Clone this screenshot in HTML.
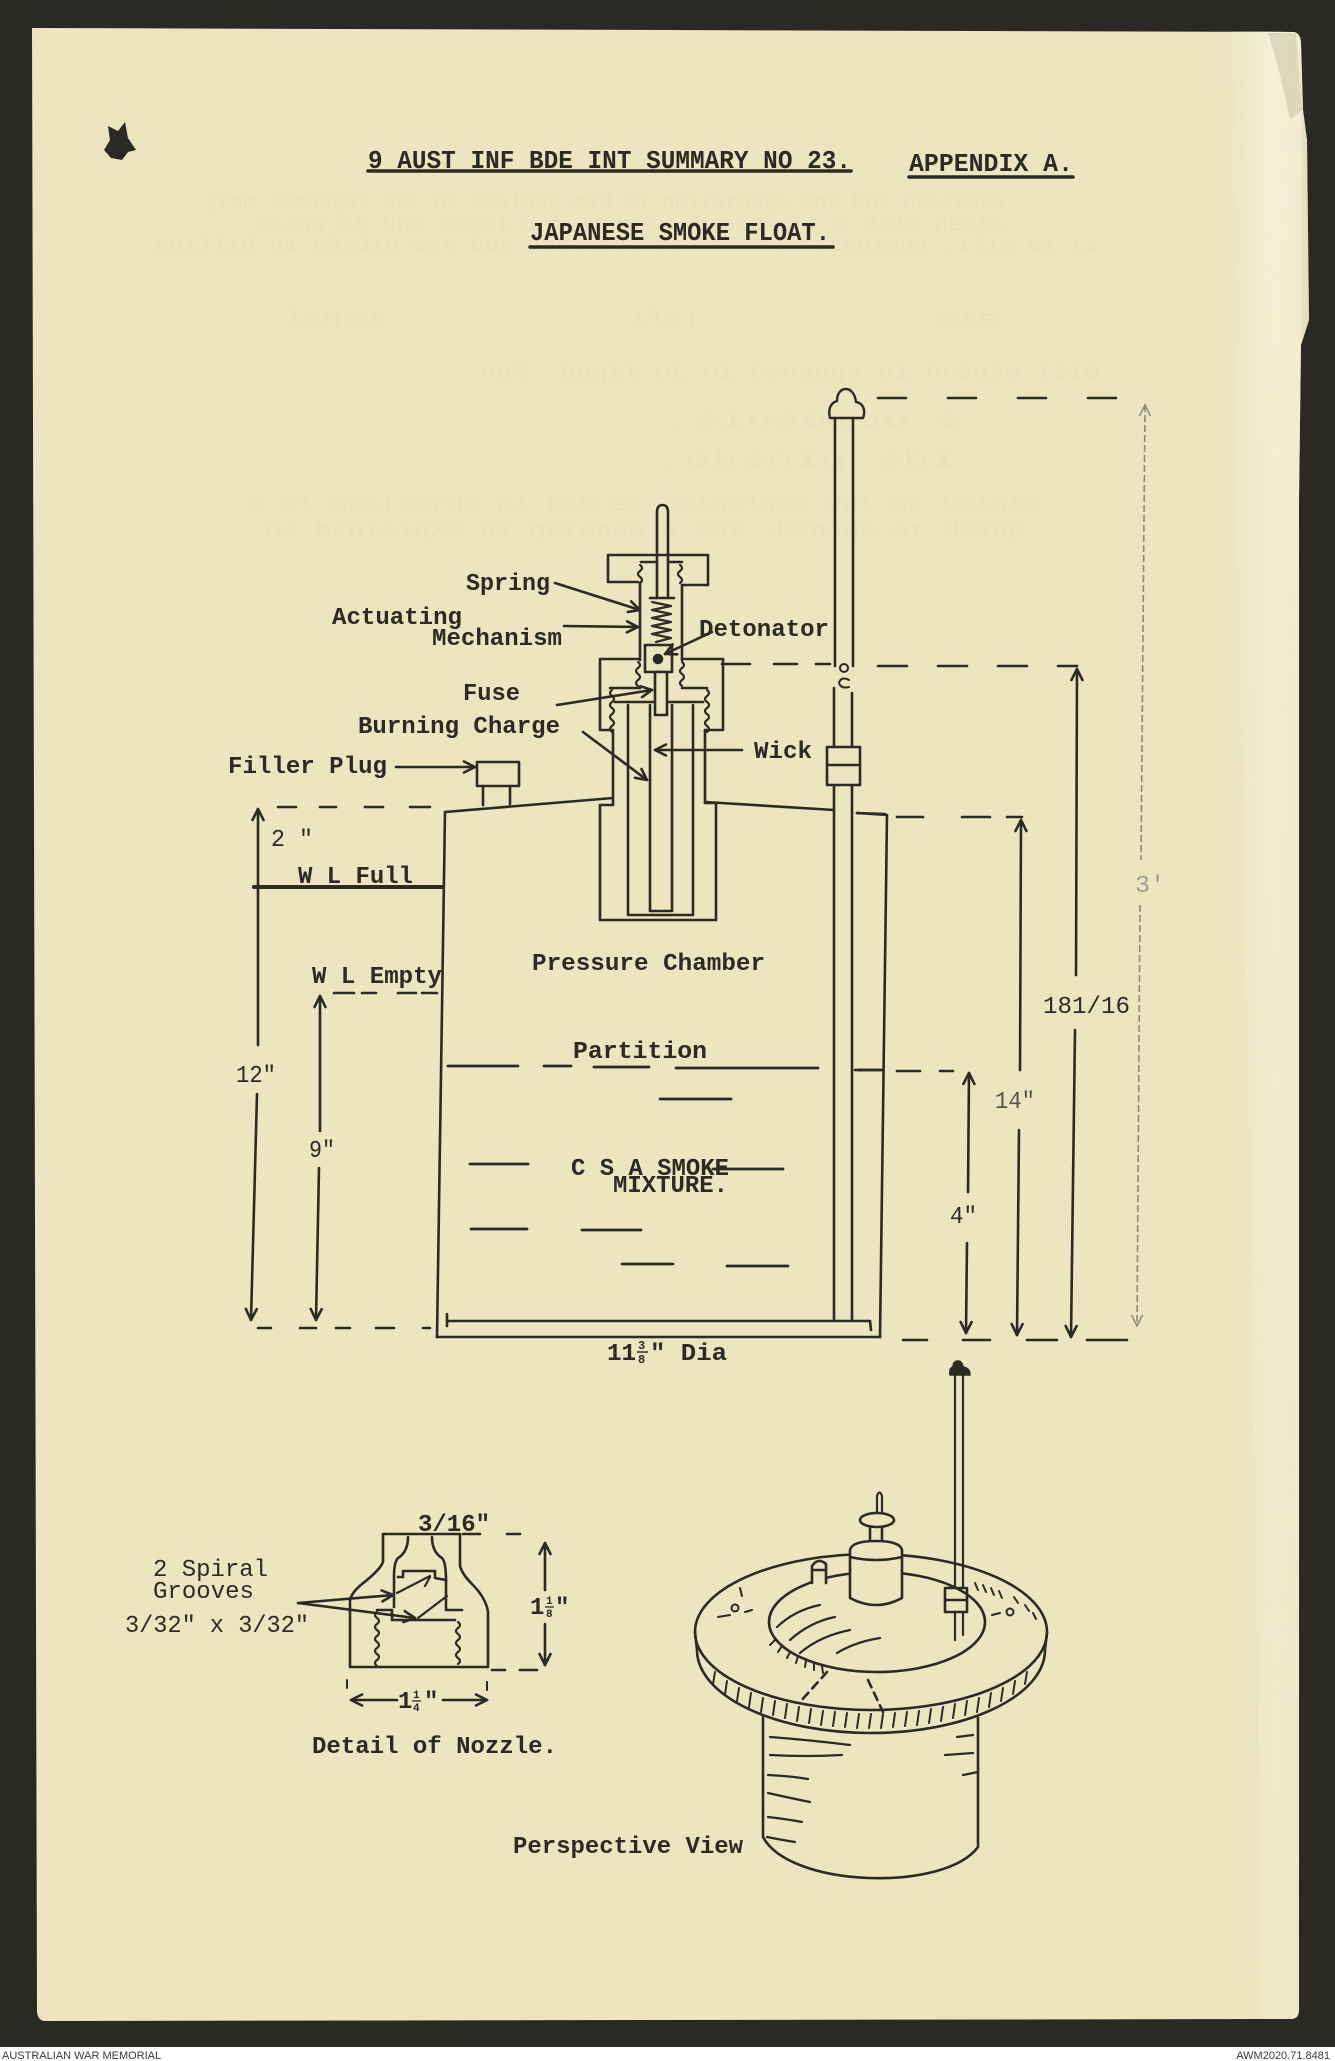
<!DOCTYPE html>
<html><head><meta charset="utf-8">
<style>
html,body{margin:0;padding:0;background:#2a2925;}
body{width:1335px;height:2061px;overflow:hidden;}
svg{display:block}
.t{font-family:"Liberation Mono","DejaVu Sans Mono",monospace;font-weight:bold;font-size:24px;fill:#2d2a24;}
.n{font-weight:normal;}
.g{font-family:"Liberation Mono",monospace;font-size:20px;fill:#d6cfaa;}
.f{font-family:"Liberation Sans",Arial,sans-serif;font-size:11px;fill:#3a3a3a;}
</style></head><body>
<svg width="1335" height="2061" viewBox="0 0 1335 2061" xmlns="http://www.w3.org/2000/svg">
<defs>
<linearGradient id="curl" x1="0" x2="1" y1="0" y2="0">
 <stop offset="0" stop-color="#f8f5e0" stop-opacity="0"/>
 <stop offset="0.55" stop-color="#f8f5e0" stop-opacity="0.7"/>
 <stop offset="0.88" stop-color="#f4f0d8" stop-opacity="0.75"/>
 <stop offset="1" stop-color="#d6d0b2" stop-opacity="0.6"/>
</linearGradient>
<linearGradient id="vfade" x1="0" x2="0" y1="0" y2="1">
 <stop offset="0" stop-color="#fff" stop-opacity="1"/>
 <stop offset="0.35" stop-color="#fff" stop-opacity="0.75"/>
 <stop offset="1" stop-color="#fff" stop-opacity="0.35"/>
</linearGradient>
<mask id="m" maskUnits="userSpaceOnUse" x="1150" y="0" width="185" height="2061">
 <rect x="1150" y="28" width="185" height="1995" fill="url(#vfade)"/>
</mask>
<marker id="a" markerUnits="userSpaceOnUse" markerWidth="16" markerHeight="14" refX="13" refY="7" orient="auto-start-reverse"><path d="M2,1.5 L13,7 L2,12.5" fill="none" stroke="#2d2a24" stroke-width="2.6" stroke-linecap="round" stroke-linejoin="round"/></marker>
<marker id="af" markerUnits="userSpaceOnUse" markerWidth="16" markerHeight="14" refX="13" refY="7" orient="auto-start-reverse"><path d="M2,1.5 L13,7 L2,12.5" fill="none" stroke="#8f8b7c" stroke-width="1.6"/></marker>
</defs>

<!-- background and page -->
<rect width="1335" height="2061" fill="#2a2925"/>
<path d="M32,28 L1294,32 Q1300,33 1301,42 L1303,110 L1307,140 L1309,320 L1301,345 L1299,500 L1299,2010 Q1299,2018 1292,2019 L44,2021 Q38,2020 37,2012 Z" fill="#ece5c0"/>
<path mask="url(#m)" d="M1225,31 L1294,32 Q1300,33 1301,42 L1303,110 L1307,140 L1309,320 L1301,345 L1299,500 L1299,2010 Q1299,2018 1292,2019 L1262,2019 Q1250,1000 1225,31 Z" fill="url(#curl)"/>
<path d="M1268,33 L1296,33 L1302,110 L1290,120 Q1280,70 1268,33 Z" fill="#cfc9ad" opacity="0.6"/>
<!-- punch hole -->
<path d="M108,126 L118,131 L125,122 L128,138 L136,150 L128,152 L122,160 L111,158 L104,150 L110,140 Z" fill="#2a2925"/>

<!-- ghost show-through text -->
<g class="g" opacity="0.16">
<text x="205" y="208" textLength="800" lengthAdjust="spacingAndGlyphs">yrom ssenaqat ent ni bsilbuq eid ni noitarneqs ent bus notsvaea</text>
<text x="255" y="230" textLength="750" lengthAdjust="spacingAndGlyphs">eaiaw ot bns esuoi ent tedt ot bsaig ont a dulo neets</text>
<text x="155" y="251" textLength="945" lengthAdjust="spacingAndGlyphs">gnillid ni ebsdio ent bus .bsildsi ot wol neeritenieqa .ilis ei ti</text>
<text x="285" y="325" textLength="95" lengthAdjust="spacingAndGlyphs">lsnsd</text>
<text x="630" y="325" textLength="70" lengthAdjust="spacingAndGlyphs">ilsT</text>
<text x="935" y="325" textLength="65" lengthAdjust="spacingAndGlyphs">3Ie</text>
<text x="480" y="378" textLength="620" lengthAdjust="spacingAndGlyphs">nol .beqil ot ni bsnaqqs ei nrogsw lsio</text>
<text x="664" y="426" textLength="300" lengthAdjust="spacingAndGlyphs">.sinsqmoo s</text>
<text x="657" y="466" textLength="300" lengthAdjust="spacingAndGlyphs">.ebsniq sbi</text>
<text x="250" y="510" textLength="790" lengthAdjust="spacingAndGlyphs">a ot neitsorqs ni bsu ei noiqolqxe ent ni bsiqls</text>
<text x="265" y="536" textLength="760" lengthAdjust="spacingAndGlyphs">ni bsnisiqxe ni qotaneb a ent .bsnsqs ot dsiup</text>
</g>

<g fill="none" stroke="#2d2a24" stroke-width="2.6" stroke-linecap="round" stroke-linejoin="round">
<!-- title underlines -->
<line x1="368" y1="171" x2="851" y2="171" stroke-width="3.5"/>
<line x1="909" y1="177" x2="1073" y2="177" stroke-width="3.5"/>
<line x1="530" y1="247" x2="833" y2="247" stroke-width="3.5"/>

<!-- pole -->
<path d="M830,418 L863,418 C866,410 863,403 856,402 C855,393 850,389 846,389 C841,389 837,393 837,401 C830,403 828,410 830,418 Z" stroke-width="2.4"/>
<line x1="835" y1="418" x2="835" y2="666"/>
<line x1="853" y1="418" x2="853" y2="666"/>
<circle cx="844" cy="668" r="4" stroke-width="2"/>
<path d="M849,680 Q841,676 839,683 Q841,689 849,687" stroke-width="2"/>
<line x1="834" y1="688" x2="834" y2="1319"/>
<line x1="852" y1="693" x2="852" y2="1319"/>
<rect x="827" y="747" width="33" height="38" fill="#ece5c0"/>
<line x1="827" y1="765" x2="860" y2="765"/>

<!-- right dimension lines -->
<line x1="878" y1="398" x2="1125" y2="398" stroke-dasharray="28 42"/>
<path d="M722,664 H750 M774,664 H797 M816,664 H830" />
<line x1="878" y1="666" x2="1077" y2="666" stroke-dasharray="29 31"/>
<line x1="1077" y1="669" x2="1076" y2="975" marker-start="url(#a)"/>
<line x1="1075" y1="1030" x2="1071" y2="1337" marker-end="url(#a)"/>
<path d="M857,813 L885,814"/>
<path d="M897,817 H923 M962,817 H990 M1007,817 H1022"/>
<line x1="1021" y1="820" x2="1020" y2="1070" marker-start="url(#a)"/>
<line x1="1019" y1="1130" x2="1017" y2="1335" marker-end="url(#a)"/>
<path d="M855,1070 H882 M897,1071 H920 M940,1071 H953"/>
<line x1="969" y1="1073" x2="968" y2="1192" marker-start="url(#a)"/>
<line x1="967" y1="1243" x2="966" y2="1333" marker-end="url(#a)"/>
<path d="M903,1340 H927 M963,1340 H990 M1027,1340 H1057 M1087,1340 H1127"/>

<!-- container -->
<path d="M445,812 L437,1337"/>
<path d="M445,812 L613,798"/>
<path d="M613,730 L613,805 L600,805 L600,920 L716,920 L716,803 L705,803 L705,730"/>
<path d="M705,802 L834,810"/>
<path d="M857,813 L887,815 L880,1337"/>
<path d="M437,1337 L880,1337"/>
<path d="M447,1321 L870,1321 M447,1314 L447,1326 M870,1321 L871,1330"/>
<path d="M628,705 L628,915 L693,915 L693,705"/>
<path d="M650,705 L650,911 L672,911 L672,705"/>

<!-- mechanism -->
<path d="M657,598 L657,512 Q657,505 662.5,505 Q668,505 668,512 L668,598"/>
<path d="M638,582 L608,582 L608,555 L708,555 L708,585 L682,585"/>
<path d="M641,562 L656,562 M669,562 L682,562"/>
<path d="M640,565 q4,3 0,6 q-4,3 0,6 q4,3 0,6" stroke-width="2.2"/>
<path d="M680,565 q4,3 0,6 q-4,3 0,6 q4,3 0,6" stroke-width="2.2"/>
<line x1="640" y1="583" x2="640" y2="660"/>
<line x1="682" y1="585" x2="682" y2="660"/>
<line x1="650" y1="598" x2="674" y2="598"/>
<polyline points="652,602 671,606 652,610 671,614 652,618 671,622 652,626 671,630 652,634 671,638 656,642" stroke-width="2.2"/>
<rect x="645" y="645" width="27" height="27"/>
<circle cx="658" cy="659" r="4" fill="#2d2a24"/>
<path d="M638,662 q4,3 0,6 q-4,3 0,6 q4,3 0,6 q-4,3 0,6" stroke-width="2.2"/>
<path d="M682,662 q4,3 0,6 q-4,3 0,6 q4,3 0,6 q-4,3 0,6" stroke-width="2.2"/>
<path d="M640,659 L600,659 L600,730 L613,730"/>
<path d="M682,659 L723,659 L723,730 L705,730"/>
<path d="M640,688 L610,688 M682,688 L707,688"/>
<path d="M612,690 q-4,3 0,6 q4,3 0,6 q-4,3 0,6 q4,3 0,6 q-4,3 0,6 q4,3 0,6 q-4,3 0,6" stroke-width="2.2"/>
<path d="M707,690 q4,3 0,6 q-4,3 0,6 q4,3 0,6 q-4,3 0,6 q4,3 0,6 q-4,3 0,6 q4,3 0,6" stroke-width="2.2"/>
<line x1="615" y1="702" x2="703" y2="702"/>
<rect x="655" y="672" width="12" height="43" fill="#ece5c0"/>

<!-- label arrows -->
<path d="M555,583 L640,610" marker-end="url(#a)"/>
<path d="M564,626 L638,627" marker-end="url(#a)"/>
<path d="M712,632 L665,654" marker-end="url(#a)"/>
<path d="M557,705 L652,690" marker-end="url(#a)"/>
<path d="M583,732 L647,780" marker-end="url(#a)"/>
<path d="M742,750 L655,750" marker-end="url(#a)"/>
<path d="M396,767 L475,767" marker-end="url(#a)"/>

<!-- filler plug -->
<rect x="477" y="762" width="42" height="24"/>
<path d="M483,786 L483,805 M510,786 L510,804"/>

<!-- left dimensions -->
<path d="M278,807 H296 M320,807 H336 M365,807 H383 M410,807 H430"/>
<line x1="258" y1="809" x2="258" y2="1045" marker-start="url(#a)"/>
<line x1="257" y1="1094" x2="251" y2="1320" marker-end="url(#a)"/>
<line x1="254" y1="887" x2="443" y2="887" stroke-width="4"/>
<path d="M334,993 H354 M362,993 H376 M398,993 H416 M422,993 H437"/>
<line x1="320" y1="996" x2="320" y2="1131" marker-start="url(#a)"/>
<line x1="319" y1="1168" x2="316" y2="1320" marker-end="url(#a)"/>
<path d="M258,1328 H271 M300,1328 H316 M336,1328 H350 M376,1328 H394 M423,1328 H430"/>

<!-- partition and mixture lines -->
<g stroke-width="2.8">
<path d="M448,1066 H518 M544,1066 H571 M594,1067 H649 M676,1068 H818 M858,1070 H881"/>
<path d="M660,1099 H731"/>
<path d="M470,1164 H528 M713,1169 H783"/>
<path d="M471,1229 H527 M582,1230 H641"/>
<path d="M622,1264 H673 M727,1266 H788"/>
</g>

<!-- nozzle detail -->
<path d="M383,1534 L460,1534 L460,1566 Q462,1574 472,1584 Q486,1598 488,1612 L488,1667 L350,1667 L350,1600 Q352,1592 362,1584 Q380,1570 383,1562 Z"/>
<path d="M463,1534 H480 M507,1534 H520"/>
<path d="M492,1670 H505 M520,1670 H537"/>
<path d="M408,1537 Q408,1552 398,1558 Q394,1562 394,1577 L394,1607"/>
<path d="M432,1537 Q432,1552 442,1558 Q446,1562 446,1580 L446,1610 L462,1610"/>
<path d="M398,1577 L403,1577 L403,1571 L435,1571 L435,1578 L446,1580"/>
<path d="M397,1593 L430,1576 M418,1618 L447,1596 M430,1577 L425,1586" stroke-width="2.2"/>
<path d="M377,1610 L392,1610 L392,1620 L455,1620"/>
<path d="M377,1612 q-4,3 0,6 q4,3 0,6 q-4,3 0,6 q4,3 0,6 q-4,3 0,6 q4,3 0,6 q-4,3 0,6 q4,3 0,6 q-4,3 0,6" stroke-width="2.2"/>
<path d="M458,1622 q4,3 0,6 q-4,3 0,6 q4,3 0,6 q-4,3 0,6 q4,3 0,6 q-4,3 0,6 q4,3 0,6" stroke-width="2.2"/>
<path d="M298,1603 L393,1595" marker-end="url(#a)"/>
<path d="M298,1603 L415,1618" marker-end="url(#a)"/>
<path d="M545,1590 L545,1543" marker-end="url(#a)"/>
<path d="M545,1624 L545,1665" marker-end="url(#a)"/>
<path d="M397,1700 L351,1700" marker-end="url(#a)"/>
<path d="M443,1700 L487,1700" marker-end="url(#a)"/>
<path d="M347,1680 L347,1688 M487,1682 L487,1690" stroke-width="2"/>

<!-- perspective view -->
<path d="M950,1375 L970,1375 Q970,1368 963,1367 Q962,1361 958,1361 Q953,1361 953,1367 Q949,1368 950,1375 Z" fill="#2d2a24" stroke-width="1.5"/>
<path d="M955,1375 L955,1640 M963,1375 L963,1635" stroke-width="2.2"/>
<rect x="945" y="1588" width="22" height="24" fill="#ece5c0"/>
<line x1="945" y1="1600" x2="967" y2="1600"/>
<ellipse cx="871" cy="1632" rx="176" ry="78"/>
<path d="M695,1632 L697,1650 A174,83 0 0 0 1045,1650 L1047,1632"/>
<ellipse cx="877" cy="1622" rx="108" ry="50"/>
<!-- central fitting -->
<path d="M877,1513 L877,1496 Q879.5,1489 882,1496 L882,1513" stroke-width="2.2"/>
<ellipse cx="877" cy="1520" rx="17" ry="7" fill="#ece5c0"/>
<path d="M870,1527 L870,1547 M882,1527 L882,1547"/>
<path d="M850,1598 L850,1550 Q852,1541 876,1541 Q900,1541 902,1550 L902,1598 Q876,1612 850,1598 Z" fill="#ece5c0"/>
<path d="M850,1557 Q876,1563 902,1557"/>
<!-- rim plug & marks -->
<path d="M812,1583 L812,1566 Q818,1557 826,1564 L826,1583" fill="#ece5c0"/>
<line x1="812" y1="1570" x2="826" y2="1570"/>
<circle cx="735" cy="1608" r="3.5" stroke-width="2"/>
<path d="M740,1588 L742,1596 M718,1617 L730,1615 M745,1612 L752,1610" stroke-width="2"/>
<circle cx="1010" cy="1612" r="3.5" stroke-width="2"/>
<path d="M975,1583 L978,1590 M983,1585 L986,1592 M991,1588 L994,1595 M999,1591 L1002,1598 M1014,1597 L1018,1603 M1025,1605 L1029,1611 M1033,1613 L1036,1619 M992,1615 L1000,1613" stroke-width="2"/>
<!-- recess strokes -->
<path d="M800,1653 Q820,1636 850,1630 M837,1653 Q855,1642 880,1638 M777,1627 Q795,1610 820,1605 M790,1640 Q810,1622 835,1617" stroke-width="2.2"/>
<path d="M775,1640 L770,1645 M782,1646 L778,1652 M790,1652 L787,1658 M798,1656 L796,1663 M806,1660 L805,1667 M814,1663 L814,1670 M822,1666 L823,1673" stroke-width="2"/>
<!-- band hatch -->
<g stroke-width="2">
<path d="M715,1672 L713,1684 M727,1681 L725,1694 M739,1688 L737,1701 M751,1693 L749,1707 M763,1698 L761,1712 M775,1701 L773,1715 M787,1704 L785,1718 M799,1707 L797,1721 M811,1709 L809,1723 M823,1711 L821,1725 M835,1712 L833,1726 M847,1713 L845,1727 M859,1714 L857,1728 M871,1714 L869,1728 M883,1714 L881,1728 M895,1713 L893,1727 M907,1712 L905,1726 M919,1711 L917,1725 M931,1709 L929,1723 M943,1707 L941,1721 M955,1704 L953,1718 M967,1701 L965,1715 M979,1698 L977,1712 M991,1693 L989,1707 M1003,1688 L1001,1701 M1015,1681 L1013,1694 M1027,1672 L1025,1684"/>
</g>
<path d="M827,1672 L800,1702 M868,1680 L883,1712" stroke-dasharray="8 6"/>
<!-- lower cylinder -->
<path d="M763,1716 L763,1837 C790,1888 945,1892 978,1847 L978,1718"/>
<path d="M770,1737 Q810,1740 850,1745 M770,1755 Q806,1757 842,1755 M768,1775 Q790,1776 808,1779 M768,1793 Q790,1798 810,1802 M768,1817 Q786,1819 802,1822 M767,1837 Q782,1840 795,1842" stroke-width="2.2"/>
<path d="M957,1737 L973,1735 M945,1755 L973,1753 M963,1775 L978,1772" stroke-width="2.2"/>
</g>

<!-- faint 3' dimension -->
<g fill="none" stroke="#8f8b7c" stroke-width="1.6">
<line x1="1145" y1="405" x2="1141" y2="860" stroke-dasharray="7 3" marker-start="url(#af)"/>
<line x1="1140" y1="905" x2="1137" y2="1326" stroke-dasharray="7 3" marker-end="url(#af)"/>
</g>

<!-- text -->
<g class="t">
<text x="368" y="168" font-size="26" textLength="483" lengthAdjust="spacingAndGlyphs">9 AUST INF BDE INT SUMMARY NO 23.</text>
<text x="909" y="171" font-size="26" textLength="164" lengthAdjust="spacingAndGlyphs">APPENDIX A.</text>
<text x="530" y="240" font-size="26" textLength="300" lengthAdjust="spacingAndGlyphs">JAPANESE SMOKE FLOAT.</text>

<text x="466" y="590" textLength="84" lengthAdjust="spacingAndGlyphs">Spring</text>
<text x="332" y="624" textLength="130" lengthAdjust="spacingAndGlyphs">Actuating</text>
<text x="432" y="645" textLength="130" lengthAdjust="spacingAndGlyphs">Mechanism</text>
<text x="699" y="636" textLength="130" lengthAdjust="spacingAndGlyphs">Detonator</text>
<text x="463" y="700" textLength="57" lengthAdjust="spacingAndGlyphs">Fuse</text>
<text x="358" y="733" textLength="202" lengthAdjust="spacingAndGlyphs">Burning Charge</text>
<text x="754" y="758" textLength="58" lengthAdjust="spacingAndGlyphs">Wick</text>
<text x="228" y="773" textLength="159" lengthAdjust="spacingAndGlyphs">Filler Plug</text>
<text x="271" y="846" class="t n" textLength="42" lengthAdjust="spacingAndGlyphs">2 "</text>
<text x="298" y="883" textLength="115" lengthAdjust="spacingAndGlyphs">W L Full</text>
<text x="312" y="983" textLength="130" lengthAdjust="spacingAndGlyphs">W L Empty</text>
<text x="236" y="1082" class="t n" textLength="40" lengthAdjust="spacingAndGlyphs">12"</text>
<text x="309" y="1157" class="t n" textLength="26" lengthAdjust="spacingAndGlyphs">9"</text>
<text x="532" y="970" textLength="233" lengthAdjust="spacingAndGlyphs">Pressure Chamber</text>
<text x="573" y="1058" textLength="134" lengthAdjust="spacingAndGlyphs">Partition</text>
<text x="571" y="1175" textLength="158" lengthAdjust="spacingAndGlyphs">C S A SMOKE</text>
<text x="613" y="1192" textLength="115" lengthAdjust="spacingAndGlyphs">MIXTURE.</text>
<text x="607" y="1360" textLength="29" lengthAdjust="spacingAndGlyphs">11</text>
<text x="638" y="1349" font-size="12">3</text>
<text x="638" y="1363" font-size="12">8</text>
<text x="650" y="1360" textLength="77" lengthAdjust="spacingAndGlyphs">" Dia</text>
<text x="1043" y="1013" class="t n" textLength="87" lengthAdjust="spacingAndGlyphs">181/16</text>
<text x="995" y="1108" class="t n" style="fill:#55524a" textLength="40" lengthAdjust="spacingAndGlyphs">14"</text>
<text x="950" y="1223" class="t n" textLength="27" lengthAdjust="spacingAndGlyphs">4"</text>
<text x="1135" y="892" class="t n" style="fill:#a19d8e" textLength="30" lengthAdjust="spacingAndGlyphs">3'</text>

<text x="418" y="1531" textLength="72" lengthAdjust="spacingAndGlyphs">3/16"</text>
<text x="153" y="1576" class="t n" textLength="115" lengthAdjust="spacingAndGlyphs">2 Spiral</text>
<text x="153" y="1598" class="t n" textLength="101" lengthAdjust="spacingAndGlyphs">Grooves</text>
<text x="125" y="1632" class="t n" textLength="184" lengthAdjust="spacingAndGlyphs">3/32" x 3/32"</text>
<text x="530" y="1614">1</text>
<text x="546" y="1604" font-size="11">1</text>
<text x="546" y="1617" font-size="11">8</text>
<text x="555" y="1614">"</text>
<text x="398" y="1708">1</text>
<text x="413" y="1698" font-size="11">1</text>
<text x="413" y="1711" font-size="11">4</text>
<text x="424" y="1708">"</text>
<text x="312" y="1753" textLength="245" lengthAdjust="spacingAndGlyphs">Detail of Nozzle.</text>
<text x="513" y="1853" textLength="230" lengthAdjust="spacingAndGlyphs">Perspective View</text>
</g>
<line x1="637" y1="1352" x2="648" y2="1352" stroke="#2d2a24" stroke-width="1.5"/>
<line x1="545" y1="1607" x2="554" y2="1607" stroke="#2d2a24" stroke-width="1.3"/>
<line x1="412" y1="1701" x2="421" y2="1701" stroke="#2d2a24" stroke-width="1.3"/>

<!-- footer -->
<rect x="0" y="2047" width="1335" height="14" fill="#ffffff"/>
<text class="f" x="2" y="2059">AUSTRALIAN WAR MEMORIAL</text>
<text class="f" x="1330" y="2059" text-anchor="end">AWM2020.71.8481</text>
</svg>
</body></html>
